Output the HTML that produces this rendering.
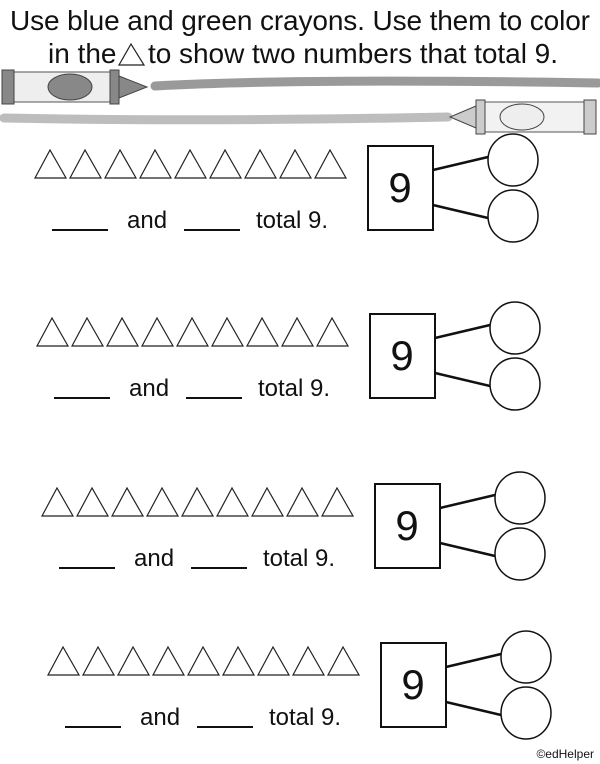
<!DOCTYPE html>
<html><head><style>
html,body{margin:0;padding:0;background:#fff;}
svg{display:block;}
text{font-family:"Liberation Sans",sans-serif;fill:#111;}
</style></head><body>
<svg width="600" height="764" viewBox="0 0 600 764" xmlns="http://www.w3.org/2000/svg">
<defs>
<g id="row">
  <g fill="#fff" stroke="#222" stroke-width="1.2">
    <polygon points="0,28 15,0 31,28"/>
    <polygon points="35,28 50,0 66,28"/>
    <polygon points="70,28 85,0 101,28"/>
    <polygon points="105,28 120,0 136,28"/>
    <polygon points="140,28 155,0 171,28"/>
    <polygon points="175,28 190,0 206,28"/>
    <polygon points="210,28 225,0 241,28"/>
    <polygon points="245,28 260,0 276,28"/>
    <polygon points="280,28 295,0 311,28"/>
  </g>
  <rect x="333" y="-4" width="65" height="84" fill="#fff" stroke="#111" stroke-width="2"/>
  <text x="365" y="52" font-size="42" text-anchor="middle">9</text>
  <line x1="398" y1="20" x2="453" y2="7" stroke="#111" stroke-width="2.5"/>
  <line x1="398" y1="55" x2="453" y2="68" stroke="#111" stroke-width="2.5"/>
  <ellipse cx="478" cy="10" rx="25" ry="26" fill="#fff" stroke="#111" stroke-width="1.5"/>
  <ellipse cx="478" cy="66" rx="25" ry="26" fill="#fff" stroke="#111" stroke-width="1.5"/>
  <line x1="17" y1="80" x2="73" y2="80" stroke="#111" stroke-width="2"/>
  <line x1="149" y1="80" x2="205" y2="80" stroke="#111" stroke-width="2"/>
  <text x="92" y="78" font-size="24">and</text>
  <text x="221" y="78" font-size="24">total 9.</text>
</g>
</defs>
<text x="300" y="30" font-size="28" text-anchor="middle" textLength="580">Use blue and green crayons. Use them to color</text>
<text x="48" y="63" font-size="28">in the</text>
<polygon points="119,65 131,44 144,65" fill="#fff" stroke="#222" stroke-width="1.2"/>
<text x="148" y="63" font-size="28" textLength="410">to show two numbers that total 9.</text>
<!-- crayon 1 -->
<g>
  <rect x="2" y="72" width="110" height="30" fill="#eee" stroke="#555"/>
  <rect x="2" y="70" width="12" height="34" fill="#888" stroke="#444"/>
  <rect x="110" y="70" width="9" height="34" fill="#888" stroke="#444"/>
  <ellipse cx="70" cy="87" rx="22" ry="13" fill="#888" stroke="#444"/>
  <polygon points="119,76 147,87 119,98" fill="#888" stroke="#444"/>
  <path d="M155,86 Q300,78 598,83" stroke="#9a9a9a" stroke-width="9" fill="none" stroke-linecap="round"/>
</g>
<!-- crayon 2 -->
<g>
  <path d="M4,118 Q200,122 448,117" stroke="#bdbdbd" stroke-width="9" fill="none" stroke-linecap="round"/>
  <polygon points="476,106 450,117 476,128" fill="#ccc" stroke="#444"/>
  <rect x="476" y="102" width="110" height="30" fill="#f2f2f2" stroke="#555"/>
  <rect x="476" y="100" width="9" height="34" fill="#ccc" stroke="#444"/>
  <rect x="584" y="100" width="12" height="34" fill="#ccc" stroke="#444"/>
  <ellipse cx="522" cy="117" rx="22" ry="13" fill="#eee" stroke="#444"/>
</g>
<use href="#row" x="35" y="150"/>
<use href="#row" x="37" y="318"/>
<use href="#row" x="42" y="488"/>
<use href="#row" x="48" y="647"/>
<text x="594" y="758" font-size="12" text-anchor="end">©edHelper</text>
</svg>
</body></html>
